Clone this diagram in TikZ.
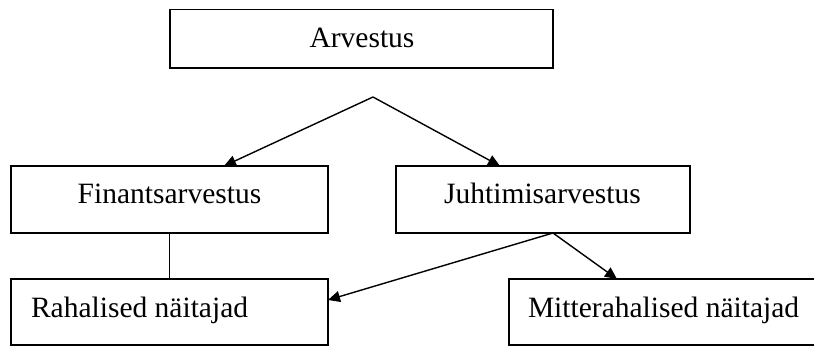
\documentclass[tikz,border=0pt]{standalone}
\usepackage{fontspec}
\setmainfont{Liberation Serif}
\usetikzlibrary{arrows.meta,calc}
\tikzset{
  box/.style={draw=black, line width=1.4pt, rectangle, inner sep=0pt, outer sep=0pt},
  lbl/.style={inner sep=0pt, outer sep=0pt, font=\fontsize{29.5pt}{34pt}\selectfont},
  conn/.style={line width=1.4pt},
  arr/.style={line width=1.4pt, -{Triangle[length=12pt,width=11pt]}}
}
\begin{document}
\begin{tikzpicture}[x=1pt,y=1pt]
\useasboundingbox (0,0) rectangle (814,-346);
\node[box, minimum width=383pt, minimum height=58.5pt] (A) at (361.5,-38.75) {};
\node[box, minimum width=317pt, minimum height=67pt] (F) at (169.5,-199.5) {};
\node[box, minimum width=294pt, minimum height=67pt] (J) at (543,-199.5) {};
\node[box, minimum width=317pt, minimum height=66pt] (R) at (169.5,-312) {};
\node[box, minimum width=321pt, minimum height=66pt] (M) at (669.5,-312) {};

\node[lbl, anchor=base] (tA) at (362,-47) {Arvestus};
\node[lbl, anchor=base] (tF) at (169.5,-203) {Finantsarvestus};
\node[lbl, anchor=base] (tJ) at (542.5,-203) {Juhtimisarvestus};
\node[lbl, anchor=base west] (tR) at (31,-317) {Rahalised näitajad};
\node[lbl, anchor=base west] (tM) at (528,-317) {Mitterahalised näitajad};

\coordinate (apex) at (373,-97);
\draw[arr] (apex) -- ([xshift=54.5pt]F.north);
\draw[arr] (apex) -- ([xshift=-43pt]J.north);
\draw[conn] (F.south) -- (R.north);
\draw[arr] ([xshift=10pt]J.south) -- ([yshift=12pt]R.east);
\draw[arr] ([xshift=10pt]J.south) -- ([xshift=-52.5pt]M.north);
\end{tikzpicture}
\end{document}
